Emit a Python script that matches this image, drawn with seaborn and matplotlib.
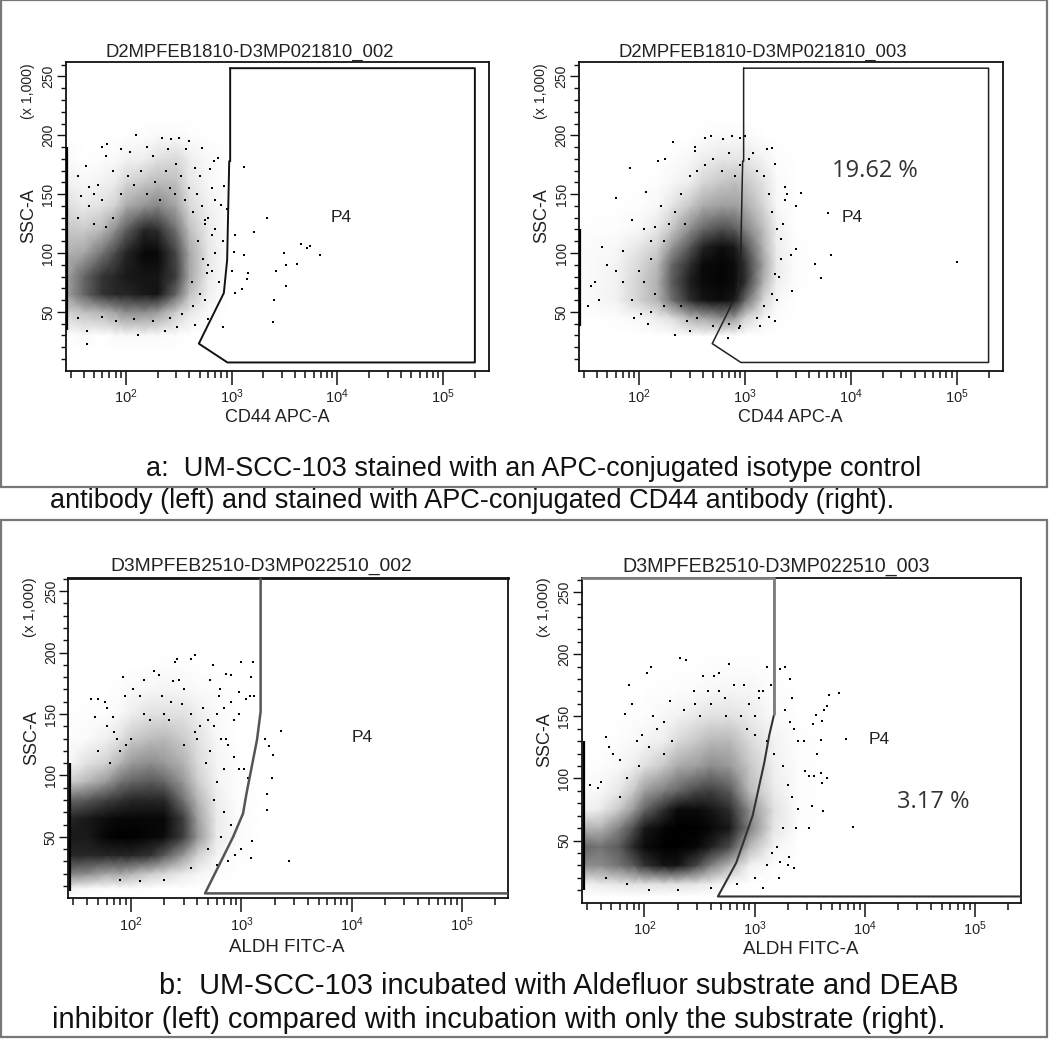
import matplotlib
matplotlib.use("Agg")
import matplotlib.pyplot as plt
from matplotlib.patches import Rectangle
from matplotlib.ticker import LogLocator, NullFormatter, FixedLocator
import numpy as np
import seaborn as sns

W, H = 1050, 1039

# ---------- panel titles and labels ----------
TITLES = ["D2MPFEB1810-D3MP021810_002", "D2MPFEB1810-D3MP021810_003",
          "D3MPFEB2510-D3MP022510_002", "D3MPFEB2510-D3MP022510_003"]
XLABELS = ["CD44 APC-A", "CD44 APC-A", "ALDH FITC-A", "ALDH FITC-A"]
CAPTIONS = ["a:  UM-SCC-103 stained with an APC-conjugated isotype control",
            "antibody (left) and stained with APC-conjugated CD44 antibody (right).",
            "b:  UM-SCC-103 incubated with Aldefluor substrate and DEAB",
            "inhibitor (left) compared with incubation with only the substrate (right)."]

# ---------- gate outlines (CD value, SSC value) ----------
GATE_A_X = [970, 200000, 200000, 914, 490, 845, 908, 950, 970, 970]
GATE_A_Y = [257, 257, 7, 7, 23, 66, 94, 178, 178, 257]
GATE_B1_X = [1493, 1493, 1384, 1110, 1034, 841, 468, 272000]
GATE_B1_Y = [261, 152, 129, 85, 69, 50, 4, 4]
GATE_B2_X = [1510, 1510, 1361, 1228, 961, 681, 465, 272000]
GATE_B2_Y = [262, 152, 135, 113, 70, 32, 5, 5]

# ---------- event density (0 = white, 1 = solid black) ----------
A1_X = [27, 40, 60, 80, 100, 150, 200, 300, 400, 600, 900]
A1_Y = [15, 30, 50, 65, 80, 100, 120, 140, 160, 180, 200, 215]
A1_D = [[0, 0, 0, 0, 0, 0, 0, 0, 0, 0, 0],
        [0, .02, 0, .02, .03, .03, .02, .01, 0, 0, 0],
        [.18, .25, .3, .38, .45, .45, .4, .2, .1, .02, 0],
        [.35, .6, .8, .85, .85, .9, .92, .6, .25, .06, 0],
        [.35, .6, .8, .85, .9, .92, .92, .75, .35, .08, .01],
        [.3, .35, .55, .72, .85, .97, .97, .72, .35, .1, .01],
        [.22, .2, .28, .45, .62, .85, .82, .55, .25, .08, .01],
        [.14, .08, .12, .18, .33, .42, .48, .35, .15, .06, .01],
        [.06, .03, .05, .08, .16, .22, .27, .25, .1, .03, 0],
        [.02, 0, .01, .02, .05, .07, .12, .15, .07, .02, 0],
        [0, 0, 0, 0, 0, .01, .02, .02, .01, 0, 0],
        [0, 0, 0, 0, 0, 0, 0, 0, 0, 0, 0]]

A2_X = [27, 60, 100, 150, 200, 300, 400, 600, 800, 1000, 1500, 2000, 3000, 5000]
A2_Y = [30, 45, 60, 75, 90, 105, 120, 140, 160, 180, 200, 215]
A2_D = [[0, 0, 0, 0, 0, .02, .02, .02, .01, 0, 0, 0, 0, 0],
        [0, .01, .03, .08, .13, .3, .35, .45, .4, .18, .04, .01, 0, 0],
        [.01, .05, .18, .3, .55, .82, .92, .95, .9, .6, .16, .03, 0, 0],
        [.01, .05, .18, .32, .62, .88, .96, .98, .95, .82, .3, .06, .01, 0],
        [.01, .04, .15, .28, .58, .82, .96, .98, .95, .82, .36, .08, .01, 0],
        [.01, .03, .1, .18, .4, .66, .86, .95, .9, .7, .3, .07, .01, 0],
        [.01, .01, .03, .1, .22, .45, .6, .7, .65, .5, .26, .06, 0, 0],
        [0, 0, .01, .03, .1, .22, .33, .38, .38, .33, .16, .03, 0, 0],
        [0, 0, 0, .01, .03, .07, .16, .22, .25, .22, .11, .02, 0, 0],
        [0, 0, 0, 0, .01, .03, .07, .1, .1, .1, .05, .01, 0, 0],
        [0, 0, 0, 0, 0, 0, .01, .02, .02, .02, 0, 0, 0, 0],
        [0, 0, 0, 0, 0, 0, 0, 0, 0, 0, 0, 0, 0, 0]]

B1_X = [27, 40, 60, 80, 100, 150, 200, 300, 400, 600, 900, 1500]
B1_Y = [0, 8, 20, 35, 50, 65, 80, 95, 110, 130, 150, 170, 190, 205]
B1_D = [[0, 0, 0, 0, 0, 0, 0, 0, 0, 0, 0, 0],
        [.05, .02, .01, .01, .01, 0, 0, 0, 0, 0, 0, 0],
        [.5, .45, .35, .35, .3, .2, .15, .08, .04, .01, 0, 0],
        [.85, .85, .85, .85, .85, .8, .65, .4, .18, .04, .01, 0],
        [.9, .9, .98, 1, 1, .97, .95, .75, .42, .08, .02, 0],
        [.85, .9, .95, .97, .97, .97, .97, .75, .38, .08, .02, 0],
        [.6, .65, .75, .8, .85, .85, .85, .55, .3, .07, .01, 0],
        [.18, .28, .4, .55, .6, .65, .6, .4, .2, .05, .01, 0],
        [.03, .12, .18, .3, .4, .45, .4, .3, .15, .04, .01, 0],
        [.01, .02, .06, .12, .2, .26, .28, .2, .12, .03, 0, 0],
        [0, .01, .01, .03, .07, .12, .12, .12, .07, .02, 0, 0],
        [0, 0, 0, .01, .02, .03, .04, .03, .02, .01, 0, 0],
        [0, 0, 0, 0, 0, 0, .01, .01, 0, 0, 0, 0],
        [0, 0, 0, 0, 0, 0, 0, 0, 0, 0, 0, 0]]

B2_X = [27, 40, 60, 80, 100, 150, 200, 300, 400, 600, 900, 1500, 2500, 5000]
B2_Y = [5, 15, 30, 45, 60, 75, 90, 110, 130, 150, 170, 190, 205]
B2_D = [[0, 0, 0, 0, 0, 0, 0, 0, 0, 0, 0, 0, 0, 0],
        [.05, .08, .1, .12, .12, .12, .12, .1, .07, .02, 0, 0, 0, 0],
        [.45, .45, .55, .65, .8, .92, .92, .72, .5, .28, .06, .01, 0, 0],
        [.6, .55, .65, .85, .95, 1, 1, .97, .88, .7, .28, .04, 0, 0],
        [.3, .3, .5, .7, .9, .98, 1, 1, .97, .9, .5, .1, .01, 0],
        [.04, .08, .22, .4, .6, .82, .96, .96, .92, .82, .45, .12, .01, 0],
        [.01, .03, .1, .22, .38, .5, .6, .72, .75, .65, .28, .08, .01, 0],
        [0, .01, .03, .07, .12, .22, .33, .38, .45, .4, .22, .06, .01, 0],
        [0, 0, .01, .02, .04, .07, .15, .22, .28, .28, .15, .05, .01, 0],
        [0, 0, 0, .01, .01, .03, .05, .09, .12, .12, .08, .02, 0, 0],
        [0, 0, 0, 0, 0, .01, .01, .02, .03, .04, .04, .01, 0, 0],
        [0, 0, 0, 0, 0, 0, 0, 0, .01, .01, .01, 0, 0, 0],
        [0, 0, 0, 0, 0, 0, 0, 0, 0, 0, 0, 0, 0, 0]]

# ---------- individually readable events ----------
A1_PX = [1310, 2140, 1630, 1070, 1060, 1310, 4520, 5500, 5190, 3140, 6900, 3240, 4180, 2660, 1435, 1390,
         3240, 1250, 1070, 2510, 2440, 1000, 43, 43, 131, 234, 302, 447, 823, 603, 126, 59, 66, 65, 42,
         220, 265, 320, 400, 370, 520, 750, 680, 620, 840, 900, 800, 830, 700, 580, 760, 45, 50, 55, 35,
         38, 75, 90, 110, 160, 180, 250, 300, 450, 500, 650, 700, 560,
         45, 60, 75, 90, 105, 120, 140, 160, 190, 210, 240, 260, 290, 330, 360, 400, 430, 470, 520, 560,
         600, 650, 700, 480, 540, 600, 650, 420, 500, 560, 430, 340, 260, 180, 120, 80, 60, 35, 35, 50, 65]
A1_PY = [173, 130, 118, 115, 101, 98, 108, 106, 104, 100, 98, 90, 91, 85, 83, 78,
         72, 69, 66, 60, 41, 85, 23, 34, 30, 34, 37, 39, 37, 44, 200, 190, 193, 182, 174,
         198, 197, 198, 195, 188, 189, 181, 178, 171, 157, 137, 141, 110, 100, 83, 75, 156, 150, 158, 165,
         148, 170, 188, 186, 190, 182, 188, 176, 172, 165, 155, 145, 128,
         140, 145, 130, 150, 165, 158, 170, 150, 160, 145, 170, 155, 150, 165, 145, 155, 135, 150, 140, 125,
         130, 115, 120, 110, 95, 90, 85, 75, 65, 60, 55, 48, 45, 42, 44, 42, 46, 45, 130, 125, 122]

A2_PX = [6100, 6500, 100000, 4600, 5200, 3400, 3000, 3000, 2700, 2800, 2400, 2300, 2200, 82, 115, 110, 150, 175,
         60, 45, 50, 70, 85, 38, 42, 33, 35, 105, 120, 220, 280, 300, 340, 420, 480, 620, 750, 900, 1000,
         1600, 1800, 1900, 2400, 2500, 1900, 2000, 1700, 1900, 210, 690, 880, 1400, 340, 130, 160, 100, 140,
         70, 85, 60, 110, 130, 140, 170, 190, 220, 250, 300, 350, 270, 420, 500, 600, 700, 800, 900, 1100,
         1300, 1500, 1700, 1800, 2000, 2200, 2100, 1800, 1500, 1300, 900, 700, 500, 350, 250, 170, 130, 90, 1200]
A2_PY = [134, 98, 92, 91, 79, 151, 140, 103, 98, 68, 145, 125, 112, 172, 152, 120, 178, 180,
         147, 105, 90, 102, 128, 75, 60, 55, 72, 48, 40, 30, 42, 34, 190, 198, 199, 197, 199, 198, 199,
         188, 189, 176, 156, 150, 82, 60, 46, 42, 194, 28, 36, 38, 187, 110, 140, 85, 122,
         75, 60, 85, 75, 95, 65, 110, 125, 135, 150, 165, 170, 125, 175, 180, 170, 185, 165, 175, 180,
         170, 165, 150, 135, 120, 95, 80, 65, 55, 45, 38, 40, 38, 45, 55, 55, 50, 45, 185]

B1_PX = [2300, 1780, 1950, 1650, 1900, 1720, 1720, 2700, 1250, 1000, 1230, 880, 760, 600,
         43, 50, 58, 47, 68, 60, 88, 85, 250, 260, 350, 380, 1000, 1280, 1230, 550, 730, 800, 640,
         160, 180, 240, 270, 130, 105, 120, 520, 620, 800, 960, 1100, 1200, 1300, 600, 700, 500, 420, 380,
         200, 230, 290, 850, 950, 720, 520, 480, 60, 70, 75, 90, 1050, 1150,
         50, 65, 80, 100, 130, 150, 190, 220, 300, 350, 450, 560, 650, 750, 850, 950, 700, 600, 560, 700,
         800, 650, 500, 350, 200, 120, 80, 400, 300]
B1_PY = [136, 124, 117, 130, 98, 85, 72, 30, 47, 40, 33, 35, 30, 27,
         162, 162, 160, 148, 148, 155, 165, 180, 192, 195, 195, 198, 192, 192, 180, 190, 183, 182, 170,
         185, 182, 177, 178, 178, 170, 165, 178, 165, 160, 168, 162, 165, 165, 150, 155, 145, 140, 135,
         150, 160, 158, 145, 150, 130, 120, 110, 140, 135, 130, 125, 105, 98,
         120, 110, 120, 130, 150, 145, 165, 145, 170, 150, 155, 140, 130, 125, 115, 105, 105, 95, 80, 70,
         60, 50, 40, 25, 15, 14, 15, 130, 125]

B2_PX = [6800, 7800, 5900, 4700, 4300, 3600, 4100, 4500, 3400, 2800, 2100, 1650, 2900, 3100, 4000, 1200,
         3300, 3700, 4000, 2400, 3100, 4200, 4500, 4100, 3500,
         115, 105, 72, 78, 67, 45, 48, 52, 40, 32, 38, 210, 240, 340, 430, 590, 480, 1300, 1500, 1700, 1900,
         2100, 1400, 2200, 1900, 1200, 800, 900, 1100, 540, 380, 290, 170, 150, 120, 95, 85, 60, 2300, 2500,
         1700, 2050, 1450, 2000, 2300,
         60, 70, 90, 110, 130, 150, 180, 230, 280, 320, 400, 480, 550, 650, 750, 850, 1000, 1300, 1500, 1800,
         2000, 2200, 2500, 1800, 1600, 1300, 1000, 700, 400, 200, 110, 70, 45, 1000, 1100]
B2_PY = [132, 61, 169, 167, 155, 151, 146, 158, 144, 130, 145, 20, 106, 102, 104, 12,
         78, 120, 131, 60, 60, 74, 100, 96, 102,
         190, 185, 175, 160, 152, 133, 125, 120, 97, 95, 92, 197, 195, 182, 182, 192, 185, 190, 188, 188, 190,
         180, 175, 165, 155, 170, 175, 160, 165, 165, 170, 160, 162, 145, 150, 135, 130, 115, 140, 130,
         33, 37, 40, 30, 28,
         85, 100, 110, 125, 140, 120, 130, 155, 170, 150, 160, 170, 150, 175, 150, 140, 135, 130, 120, 110,
         95, 85, 75, 60, 45, 30, 20, 15, 12, 10, 10, 15, 20, 150, 170]

# ---------- events piled on the low edge of the CD scale (SSC range) ----------
EDGE_X = [27.6, 27.6, 28.2, 28.5]
EDGE_Y = [(35, 190), (38, 120), (6, 110), (10, 130)]

PANEL_DATA = [(A1_X, A1_Y, A1_D, A1_PX, A1_PY), (A2_X, A2_Y, A2_D, A2_PX, A2_PY),
              (B1_X, B1_Y, B1_D, B1_PX, B1_PY), (B2_X, B2_Y, B2_D, B2_PX, B2_PY)]
GATES = [(GATE_A_X, GATE_A_Y), (GATE_A_X, GATE_A_Y), (GATE_B1_X, GATE_B1_Y), (GATE_B2_X, GATE_B2_Y)]

sns.set_theme(style="white")
plt.rcParams["font.family"] = ["Liberation Sans", "DejaVu Sans"]
plt.rcParams["mathtext.default"] = "regular"
TXT = "#222222"

fig = plt.figure(figsize=(W / 100, H / 100), dpi=100, facecolor="white")


def px_axes(left, top, right, bottom):
    return fig.add_axes([left / W, 1 - bottom / H, (right - left) / W, (bottom - top) / H])


# outer grey boxes
for (l, t, r, b) in [(1, 0, 1047, 487), (1, 520, 1047, 1037)]:
    fig.add_artist(Rectangle((l / W, 1 - b / H), (r - l) / W, (b - t) / H, transform=fig.transFigure,
                             fill=False, ec="#777777", lw=1.6))

FRAMES = [(65.7, 62.3, 489, 370.7), (579, 62.3, 1002.7, 370.7),
          (68.3, 577.7, 508.3, 898.3), (581.7, 578.3, 1021, 902.7)]
XLIMS = [(27, 272000), (27, 272000), (27, 262000), (27, 262000)]
YLIMS = [(0, 262), (0, 262), (0, 261), (0, 261)]
GATE_LW = [1.4, 1.1, 1.8, 1.5]
GATE_COL = ["#111111", "#222222", "#555555", "#333333"]
TITLE_SIZE = [13.3, 13.3, 13.9, 14.1]
TITLE_X = [249.5, 763, 261, 776]
TITLE_Y = [52, 52, 566.5, 567]
XLAB_X = [277, 790, 287, 801]
XLAB_Y = [417, 417, 947, 950]
XLAB_SIZE = [13, 13, 13.5, 13.5]
YLAB_OFF = [153, 153, 160, 161]
UNIT_SIZE = [10.2, 10.2, 10.8, 10.8]

for i, frame in enumerate(FRAMES):
    ax = px_axes(*frame)
    ax.set_xscale("log")
    ax.set_xlim(*XLIMS[i])
    ax.set_ylim(*YLIMS[i])
    gx, gy, gd, ppx, ppy = PANEL_DATA[i]
    ax.pcolormesh(gx, gy, np.array(gd), cmap="gray_r", vmin=0, vmax=1, shading="gouraud",
                  rasterized=True, zorder=1)
    sns.scatterplot(x=ppx, y=ppy, ax=ax, s=2.8, color="black", marker="s", linewidth=0, legend=False, zorder=3)
    ax.plot([EDGE_X[i]] * 2, EDGE_Y[i], color="black", lw=1.6, zorder=3, solid_capstyle="butt")
    ax.plot(GATES[i][0], GATES[i][1], color=GATE_COL[i], lw=GATE_LW[i], zorder=4, clip_on=True)

    ax.xaxis.set_major_locator(FixedLocator([1e2, 1e3, 1e4, 1e5]))
    ax.xaxis.set_minor_locator(LogLocator(base=10, subs=np.arange(2, 10) / 1.0, numticks=12))
    ax.xaxis.set_minor_formatter(NullFormatter())
    ax.yaxis.set_major_locator(FixedLocator([50, 100, 150, 200, 250]))
    ax.yaxis.set_minor_locator(FixedLocator([10, 20, 30, 40, 60, 70, 80, 90, 110, 120, 130, 140, 160, 170,
                                             180, 190, 210, 220, 230, 240, 260]))
    ax.tick_params(axis="x", which="major", bottom=True, length=10, width=1.1, labelsize=10.5, pad=2,
                   color="#111111", labelcolor=TXT)
    ax.tick_params(axis="x", which="minor", bottom=True, length=5, width=1.1, color="#111111")
    ax.tick_params(axis="y", which="major", left=True, length=6.5, width=1.0, labelsize=10, pad=1,
                   color="#111111", labelcolor=TXT)
    ax.tick_params(axis="y", which="minor", left=True, length=3.5, width=1.0, color="#111111")
    for lab in ax.get_yticklabels():
        lab.set_rotation(90)
        lab.set_va("center")
    for s in ax.spines.values():
        s.set_visible(True)
        s.set_color("#111111")
        s.set_linewidth(1.3)

    l, t, r, b = frame
    fig.text(TITLE_X[i] / W, 1 - TITLE_Y[i] / H, TITLES[i], ha="center", va="center",
             fontsize=TITLE_SIZE[i], color=TXT)
    fig.text(XLAB_X[i] / W, 1 - XLAB_Y[i] / H, XLABELS[i], ha="center", va="center",
             fontsize=XLAB_SIZE[i], color=TXT)
    fig.text((l - 37) / W, 1 - (t + YLAB_OFF[i]) / H, "SSC-A", rotation=90, ha="center", va="center",
             fontsize=13, color=TXT)
    fig.text((l - 38) / W, 1 - (t + 29) / H, "(x 1,000)", rotation=90, ha="center", va="center",
             fontsize=UNIT_SIZE[i], color=TXT)

    if i == 2:
        ax.spines["top"].set_linewidth(2.0)
    if i == 3:
        # upper gate arm and the frame's top-left run are drawn in lighter grey in this panel
        ax.plot(GATE_B2_X[:2], GATE_B2_Y[:2], color="#808080", lw=2.0, zorder=5)
        ax.plot([27, 1510], [261, 261], color="#808080", lw=2.0, zorder=5, clip_on=False)

fig.text(341 / W, 1 - 218 / H, "P4", ha="center", va="center", fontsize=12.5, color=TXT)
fig.text(852 / W, 1 - 218 / H, "P4", ha="center", va="center", fontsize=12.5, color=TXT)
fig.text(362 / W, 1 - 737 / H, "P4", ha="center", va="center", fontsize=12.5, color=TXT)
fig.text(879 / W, 1 - 739 / H, "P4", ha="center", va="center", fontsize=12.5, color=TXT)
fig.text(875 / W, 1 - 171 / H, "19.62 %", ha="center", va="center", fontsize=17, color="#333333",
         family=["Open Sans", "DejaVu Sans"])
fig.text(933 / W, 1 - 802 / H, "3.17 %", ha="center", va="center", fontsize=17, color="#333333",
         family=["Open Sans", "DejaVu Sans"])

for (txt, x, y, fs) in zip(CAPTIONS, [146, 50, 159, 52], [469, 501, 986, 1020], [19.5, 19.5, 20.9, 20.9]):
    fig.text(x / W, 1 - y / H, txt, ha="left", va="center", fontsize=fs, color="#111111")

fig.savefig("out.png", dpi=100, facecolor="white")
